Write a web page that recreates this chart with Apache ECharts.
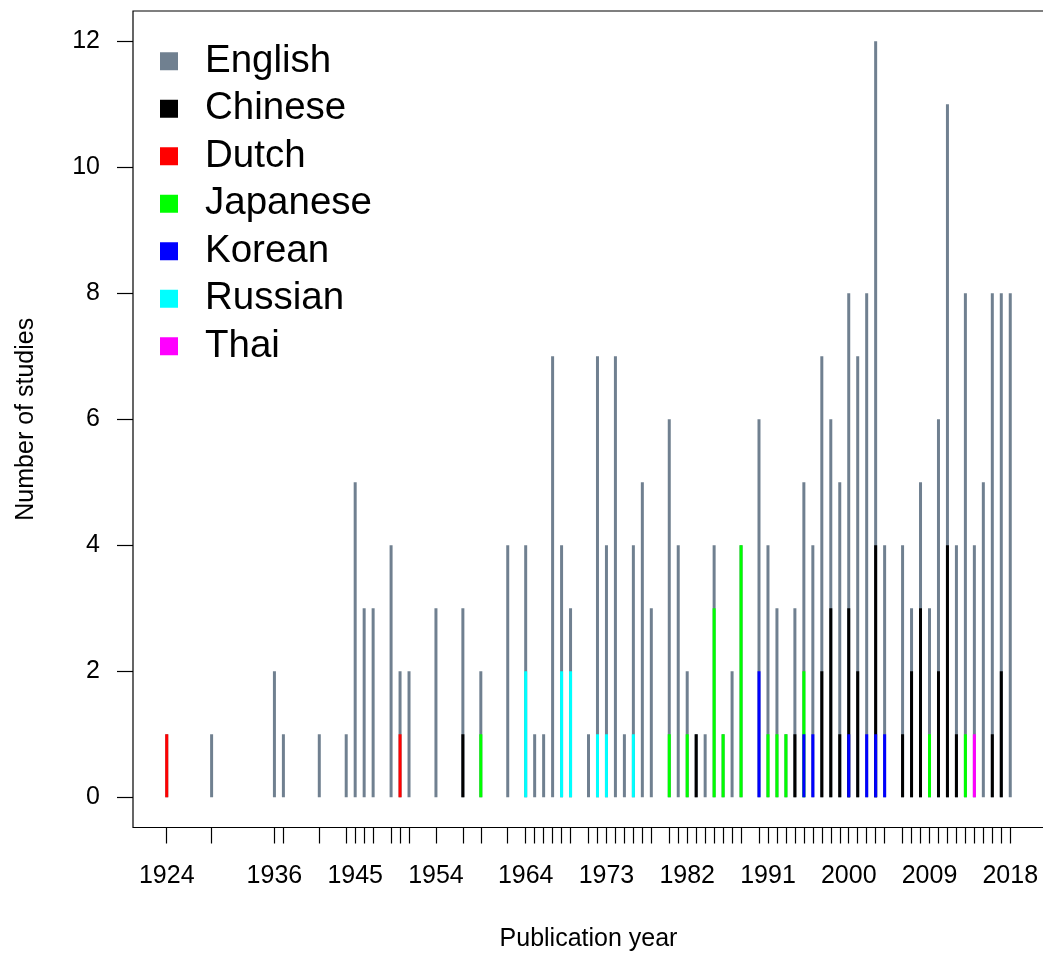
<!DOCTYPE html>
<html>
<head>
<meta charset="utf-8">
<script src="https://cdn.jsdelivr.net/npm/echarts@6/dist/echarts.min.js"></script>
<style>
html,body{margin:0;padding:0;background:#fff;}
#chart{width:1043px;height:954px;}
</style>
</head>
<body>
<div id="chart"></div>
<script>
// ---- data ----
const years = [1924,1929,1936,1937,1941,1944,1945,1946,1947,1949,1950,1951,1954,1957,1959,1962,1964,1965,1966,1967,1968,1969,1971,1972,1973,1974,1975,1976,1977,1978,1980,1981,1982,1983,1984,1985,1986,1987,1988,1990,1991,1992,1993,1994,1995,1996,1997,1998,1999,2000,2001,2002,2003,2004,2006,2007,2008,2009,2010,2011,2012,2013,2014,2015,2016,2017,2018];
// grey line height (all studies of the year)
const englishCounts = [1,1,2,1,1,1,5,3,3,4,2,2,3,3,2,4,4,1,1,7,4,3,1,7,4,7,1,4,5,3,6,4,2,1,1,4,1,2,4,6,4,3,1,3,5,4,7,6,5,8,7,8,12,4,4,3,5,3,6,11,4,8,4,5,8,8,8];

const chineseYears  = [1957,1983,1994,1997,1998,1999,2000,2001,2003,2006,2007,2008,2010,2011,2012,2016,2017];
const chineseCounts = [1,1,1,2,3,1,3,2,4,1,2,3,2,4,1,1,2];

const dutchYears  = [1924,1950];
const dutchCounts = [1,1];

const japaneseYears  = [1959,1980,1982,1985,1986,1988,1991,1992,1993,1995,2009,2013];
const japaneseCounts = [1,1,1,3,1,4,1,1,1,2,1,1];

const koreanYears  = [1990,1995,1996,2000,2002,2003,2004];
const koreanCounts = [2,1,1,1,1,1,1];

const russianYears  = [1964,1968,1969,1972,1973,1976];
const russianCounts = [2,2,2,1,1,1];

const thaiYears  = [2014];
const thaiCounts = [1];

const xLabelYears = [1924,1936,1945,1954,1964,1973,1982,1991,2000,2009,2018];
const yTicks = [0,2,4,6,8,10,12];

const languages = ['English','Chinese','Dutch','Japanese','Korean','Russian','Thai'];
const colors = ['#708090','#000000','#ff0000','#00ff00','#0000ff','#00ffff','#ff00ff'];

// ---- build ----
const pairs = (ys, vs) => ys.map((y, i) => [y, vs[i]]);
const seriesData = [
  pairs(years, englishCounts),
  pairs(chineseYears, chineseCounts),
  pairs(dutchYears, dutchCounts),
  pairs(japaneseYears, japaneseCounts),
  pairs(koreanYears, koreanCounts),
  pairs(russianYears, russianCounts),
  pairs(thaiYears, thaiCounts)
];

const FONT = 'Liberation Sans, Arial, Helvetica, sans-serif';
const chart = echarts.init(document.getElementById('chart'), null, {renderer: 'canvas'});

const option = {
  animation: false,
  backgroundColor: '#ffffff',
  color: colors,
  textStyle: {fontFamily: FONT},
  grid: {
    left: 133, top: 11, right: -1, bottom: 126.5,
    outerBoundsMode: 'none',
    containLabel: false,
    show: true, borderColor: '#000', borderWidth: 1.2, backgroundColor: 'transparent'
  },
  legend: {
    show: true,
    data: languages,
    orient: 'vertical',
    left: 160, top: 37.5,
    padding: 0,
    itemGap: 0,
    itemWidth: 18, itemHeight: 18,
    icon: 'rect',
    selectedMode: false,
    textStyle: {fontFamily: FONT, fontSize: 38.5, color: '#000', lineHeight: 47.5, padding: [0,0,0,22]}
  },
  xAxis: {
    type: 'value',
    min: 1920.24, max: 2021.76,
    splitLine: {show: false},
    axisLine: {show: false, onZero: false},
    axisTick: {show: true, length: 16, lineStyle: {color: '#000', width: 1.2}, customValues: years},
    axisLabel: {show: true, margin: 36, fontSize: 25, color: '#000', fontFamily: FONT,
      customValues: xLabelYears, formatter: v => String(v)},
    name: 'Publication year',
    nameLocation: 'middle',
    nameGap: 99,
    nameTextStyle: {fontSize: 25, color: '#000', fontFamily: FONT}
  },
  yAxis: {
    type: 'value',
    min: -0.48, max: 12.48,
    splitLine: {show: false},
    axisLine: {show: false, onZero: false},
    axisTick: {show: true, length: 16, lineStyle: {color: '#000', width: 1.2}, customValues: yTicks},
    axisLabel: {show: true, margin: 33, fontSize: 25, color: '#000', fontFamily: FONT,
      customValues: yTicks, formatter: v => String(v)},
    name: 'Number of studies',
    nameLocation: 'middle',
    nameRotate: 90,
    nameGap: 94,
    nameTextStyle: {fontSize: 25, color: '#000', fontFamily: FONT}
  },
  series: languages.map((name, i) => ({
    name: name,
    type: 'bar',
    data: seriesData[i],
    barWidth: 3,
    barGap: '-100%',
    itemStyle: {color: colors[i]},
    emphasis: {disabled: true}
  }))
};
chart.setOption(option);
</script>
</body>
</html>
